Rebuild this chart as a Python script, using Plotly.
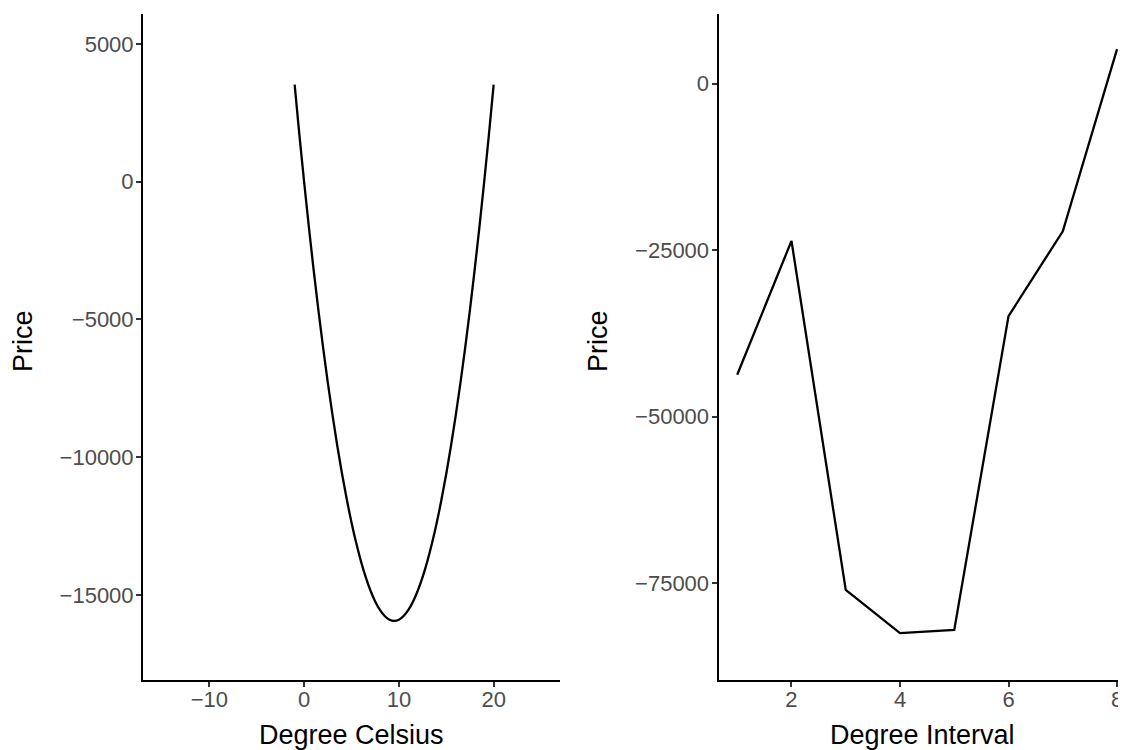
import plotly.graph_objects as go

# Left panel: price vs degree celsius
celsius = [-1, -0.5, 0, 0.5, 1, 1.5, 2, 2.5, 3, 3.5, 4, 4.5, 5, 5.5, 6, 6.5, 7, 7.5, 8, 8.5, 9, 9.5,
           10, 10.5, 11, 11.5, 12, 12.5, 13, 13.5, 14, 14.5, 15, 15.5, 16, 16.5, 17, 17.5, 18, 18.5, 19, 19.5, 20]
price_c = [3525, 1715, -7, -1640, -3186, -4643, -6011, -7292, -8484, -9587, -10603, -11530, -12369, -13119,
           -13782, -14356, -14841, -15239, -15548, -15768, -15901, -15945,
           -15901, -15768, -15548, -15239, -14841, -14356, -13782, -13119, -12369, -11530, -10603, -9587,
           -8484, -7292, -6011, -4643, -3186, -1640, -7, 1715, 3525]

# Right panel: price vs degree interval
interval = [1, 2, 3, 4, 5, 6, 7, 8]
price_i = [-43700, -23600, -76000, -82500, -82000, -34900, -22150, 5200]

left_xticks = [-10, 0, 10, 20]
left_yticks = [5000, 0, -5000, -10000, -15000]
right_xticks = [2, 4, 6, 8]
right_yticks = [0, -25000, -50000, -75000]


def lab(v):
    return str(v).replace("-", "\u2212")


# The page body has an 8px margin; lay the figure out in page pixels minus that offset.
OFF = 8
W, H = 1126 - OFF, 750 - OFF


def px(xp):
    return (xp - OFF) / W


def py(yp):
    return 1 - (yp - OFF) / H


fig = go.Figure()
fig.add_trace(go.Scatter(x=celsius, y=price_c, mode="lines", line=dict(color="black", width=2.3, shape="spline"),
                         xaxis="x", yaxis="y", showlegend=False))
fig.add_trace(go.Scatter(x=interval, y=price_i, mode="lines", line=dict(color="black", width=2.3),
                         xaxis="x2", yaxis="y2", showlegend=False))

FAM = "Liberation Sans, Arial, Helvetica, sans-serif"
font_tick = dict(family=FAM, size=22, color="#4D4D4D")
font_title = dict(family=FAM, size=27, color="black")

ydom = [py(680), py(14)]
common = dict(showgrid=False, zeroline=False, showline=True, linecolor="black", linewidth=2,
              ticks="outside", ticklen=5, tickwidth=1.6, tickcolor="#333333", tickfont=font_tick,
              automargin=False, ticklabeloverflow="allow")

fig.update_layout(
    width=W, height=H,
    margin=dict(l=0, r=0, t=0, b=0),
    paper_bgcolor="white", plot_bgcolor="white",
    xaxis=dict(domain=[px(143), px(560)], range=[-17, 27], anchor="y", ticklabelstandoff=-6,
               tickvals=left_xticks, ticktext=[lab(v) for v in left_xticks], **common),
    yaxis=dict(domain=ydom, range=[-18091, 6091], anchor="x", ticklabelstandoff=-2,
               tickvals=left_yticks, ticktext=[lab(v) for v in left_yticks], **common),
    xaxis2=dict(domain=[px(718.5), 1.0], range=[0.655, 8.165], anchor="y2", ticklabelstandoff=-6,
                tickvals=right_xticks, ticktext=[lab(v) for v in right_xticks], **common),
    yaxis2=dict(domain=ydom, range=[-89527, 10470], anchor="x2", ticklabelstandoff=-2,
                tickvals=right_yticks, ticktext=[lab(v) for v in right_yticks], **common),
)

ymid = 341
titles = [
    dict(text="Degree Celsius", x=351.5, y=735, angle=0),
    dict(text="Degree Interval", x=922, y=735, angle=0),
    dict(text="Price", x=23, y=ymid, angle=-90),
    dict(text="Price", x=598, y=ymid, angle=-90),
]
for t in titles:
    fig.add_annotation(text=t["text"], xref="paper", yref="paper", x=px(t["x"]), y=py(t["y"]),
                       xanchor="center", yanchor="middle", textangle=t["angle"], showarrow=False,
                       font=font_title)

fig.write_html("out.html")
